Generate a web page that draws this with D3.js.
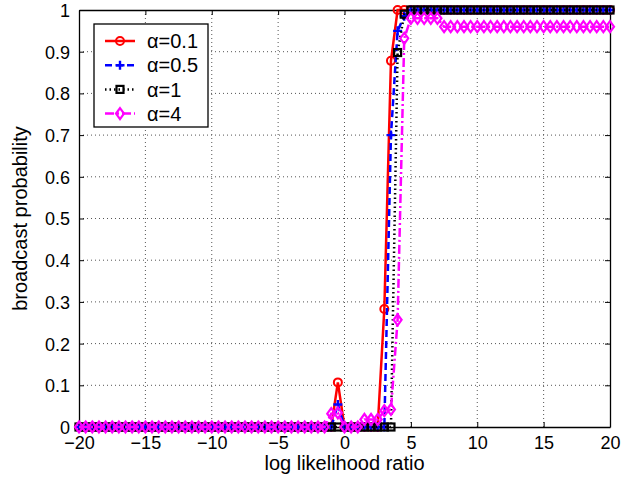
<!DOCTYPE html>
<html lang="en">
	<head>
		<meta charset="utf-8">
		<title>broadcast probability</title>
		<script type="text/javascript" src="https://cdn.jsdelivr.net/npm/d3@7/dist/d3.min.js"></script>
		<style>
			body { margin: 0; background: #fff; }
			text { font-family: "Liberation Sans", Arial, Helvetica, sans-serif; }
		</style>
	</head>
	<body>
		<div id="chart"></div>
		<script type="text/javascript">

// log likelihood ratio sampled every 0.5 from -20 to 20
var llr = d3.range(-20, 20.25, 0.5);

// alpha = 0.1
var alpha01 = [
	0,0,0,0,0,0,0,0,0,0,
	0,0,0,0,0,0,0,0,0,0,
	0,0,0,0,0,0,0,0,0,0,
	0,0,0,0,0,0,0,0,0,0.107,
	0,0,0,0,0,0,0.283,0.878,1,1,
	1,1,1,1,1,1,1,1,1,1,
	1,1,1,1,1,1,1,1,1,1,
	1,1,1,1,1,1,1,1,1,1,
	1
];
// alpha = 0.5
var alpha05 = [
	0,0,0,0,0,0,0,0,0,0,
	0,0,0,0,0,0,0,0,0,0,
	0,0,0,0,0,0,0,0,0,0,
	0,0,0,0,0,0,0,0,0,0.054,
	0,0,0,0,0,0,0,0.70,0.95,0.985,
	1,1,1,1,1,1,1,1,1,1,
	1,1,1,1,1,1,1,1,1,1,
	1,1,1,1,1,1,1,1,1,1,
	1
];
// alpha = 1
var alpha1 = [
	0,0,0,0,0,0,0,0,0,0,
	0,0,0,0,0,0,0,0,0,0,
	0,0,0,0,0,0,0,0,0,0,
	0,0,0,0,0,0,0,0,0,0,
	0,0,0,0,0,0,0,0,0.898,0.99,
	1,1,1,1,1,1,1,1,1,1,
	1,1,1,1,1,1,1,1,1,1,
	1,1,1,1,1,1,1,1,1,1,
	1
];
// alpha = 4
var alpha4 = [
	0,0,0,0,0,0,0,0,0,0,
	0,0,0,0,0,0,0,0,0,0,
	0,0,0,0,0,0,0,0,0,0,
	0,0,0,0,0,0,0,0,0.032,0.034,
	0,0,0,0.018,0.018,0.018,0.039,0.042,0.257,0.932,
	0.98,0.98,0.98,0.98,0.98,0.96,0.96,0.96,0.96,0.96,
	0.96,0.96,0.96,0.96,0.96,0.96,0.96,0.96,0.96,0.96,
	0.96,0.96,0.96,0.96,0.96,0.96,0.96,0.96,0.96,0.96,
	0.96
];

var xTicks = [-20, -15, -10, -5, 0, 5, 10, 15, 20];
var yTicks = [0, 0.1, 0.2, 0.3, 0.4, 0.5, 0.6, 0.7, 0.8, 0.9, 1];
var seriesNames = ["\u03b1=0.1", "\u03b1=0.5", "\u03b1=1", "\u03b1=4"];

var series = [
	{name: seriesNames[0], values: alpha01, color: "#ff0000", dash: null, marker: "circle"},
	{name: seriesNames[1], values: alpha05, color: "#0000ff", dash: "7,4", marker: "plus"},
	{name: seriesNames[2], values: alpha1, color: "#000000", dash: "1.5,3", marker: "square"},
	{name: seriesNames[3], values: alpha4, color: "#ff00ff", dash: "9,3,2,3", marker: "diamond"}
];

var W = 621, H = 478;
var margin = {top: 10, right: 11, bottom: 51, left: 79};
var w = W - margin.left - margin.right;
var h = H - margin.top - margin.bottom;

var svg = d3.select("#chart")
	.append("svg")
	.attr("width", W)
	.attr("height", H);

var g = svg.append("g")
	.attr("transform", "translate(" + margin.left + "," + margin.top + ")");

var x = d3.scaleLinear().domain([-20, 20]).range([0, w]);
var y = d3.scaleLinear().domain([0, 1]).range([h, 0]);

//grid
g.selectAll(".vgrid")
	.data(xTicks.slice(1, -1))
	.enter()
	.append("line")
	.attr("x1", function(d) { return x(d); })
	.attr("x2", function(d) { return x(d); })
	.attr("y1", 0)
	.attr("y2", h)
	.attr("stroke", "#555")
	.attr("stroke-width", 1)
	.attr("stroke-dasharray", "1,3");
g.selectAll(".hgrid")
	.data(yTicks.slice(1, -1))
	.enter()
	.append("line")
	.attr("x1", 0)
	.attr("x2", w)
	.attr("y1", function(d) { return y(d); })
	.attr("y2", function(d) { return y(d); })
	.attr("stroke", "#555")
	.attr("stroke-width", 1)
	.attr("stroke-dasharray", "1,3");

//axes, ticks inside
var xAxis = d3.axisBottom(x).tickValues(xTicks).tickSizeInner(-5).tickSizeOuter(0).tickPadding(9)
	.tickFormat(function(d) { return d < 0 ? "\u2212" + Math.abs(d) : d; });
var yAxis = d3.axisLeft(y).tickValues(yTicks).tickSizeInner(-5).tickSizeOuter(0).tickPadding(9)
	.tickFormat(function(d) { return d; });

var gx = g.append("g").attr("transform", "translate(0," + h + ")").call(xAxis);
var gy = g.append("g").call(yAxis);
// mirrored ticks on top and right
g.append("g").call(d3.axisTop(x).tickValues(xTicks).tickSizeInner(-5).tickSizeOuter(0).tickFormat(""));
g.append("g").attr("transform", "translate(" + w + ",0)")
	.call(d3.axisRight(y).tickValues(yTicks).tickSizeInner(-5).tickSizeOuter(0).tickFormat(""));

g.selectAll(".domain").attr("stroke", "#000").attr("stroke-width", 1.3);
g.selectAll(".tick line").attr("stroke", "#000");
gx.selectAll("text").attr("font-size", "18px").attr("fill", "#000");
gy.selectAll("text").attr("font-size", "18px").attr("fill", "#000").attr("dy", "0.36em");

//lines + markers
var line = d3.line()
	.x(function(d, i) { return x(llr[i]); })
	.y(function(d) { return y(d); });

function drawMarker(sel, type, color) {
	if (type == "circle") {
		sel.append("circle").attr("r", 4)
			.attr("fill", "none").attr("stroke", color).attr("stroke-width", 2);
	} else if (type == "plus") {
		sel.append("path").attr("d", "M-4.5,0H4.5M0,-4.5V4.5")
			.attr("fill", "none").attr("stroke", color).attr("stroke-width", 2.4);
	} else if (type == "square") {
		sel.append("rect").attr("x", -3.5).attr("y", -3.5).attr("width", 7).attr("height", 7)
			.attr("fill", "none").attr("stroke", color).attr("stroke-width", 2.2);
	} else {
		sel.append("path").attr("d", "M0,-5.5L4,0L0,5.5L-4,0Z")
			.attr("fill", "none").attr("stroke", color).attr("stroke-width", 2.2);
	}
}

series.forEach(function(s) {
	g.append("path")
		.datum(s.values)
		.attr("d", line)
		.attr("fill", "none")
		.attr("stroke", s.color)
		.attr("stroke-width", 2.5)
		.attr("stroke-dasharray", s.dash);
	g.append("g").selectAll("g")
		.data(s.values)
		.enter()
		.append("g")
		.attr("transform", function(d, i) { return "translate(" + x(llr[i]) + "," + y(d) + ")"; })
		.each(function() { drawMarker(d3.select(this), s.marker, s.color); });
});

//legend
var legend = svg.append("g").attr("transform", "translate(94,24)");
legend.append("rect")
	.attr("width", 114).attr("height", 103)
	.attr("fill", "#fff").attr("stroke", "#000").attr("stroke-width", 1.3);
series.forEach(function(s, i) {
	var ly = 17 + i * 24.2;
	var row = legend.append("g").attr("transform", "translate(0," + ly + ")");
	row.append("line")
		.attr("x1", 11).attr("x2", 41).attr("y1", 0).attr("y2", 0)
		.attr("stroke", s.color).attr("stroke-width", 2.5)
		.attr("stroke-dasharray", s.dash);
	drawMarker(row.append("g").attr("transform", "translate(26,0)"), s.marker, s.color);
	row.append("text")
		.attr("x", 53).attr("y", 0).attr("dy", "0.36em")
		.attr("font-size", "20px")
		.text(s.name);
});

//axis titles
svg.append("text")
	.attr("x", margin.left + w / 2)
	.attr("y", 470)
	.attr("text-anchor", "middle")
	.attr("font-size", "20px")
	.text("log likelihood ratio");
svg.append("text")
	.attr("transform", "translate(27," + (margin.top + h / 2) + ") rotate(-90)")
	.attr("text-anchor", "middle")
	.attr("font-size", "20px")
	.text("broadcast probability");

		</script>
	</body>
</html>
